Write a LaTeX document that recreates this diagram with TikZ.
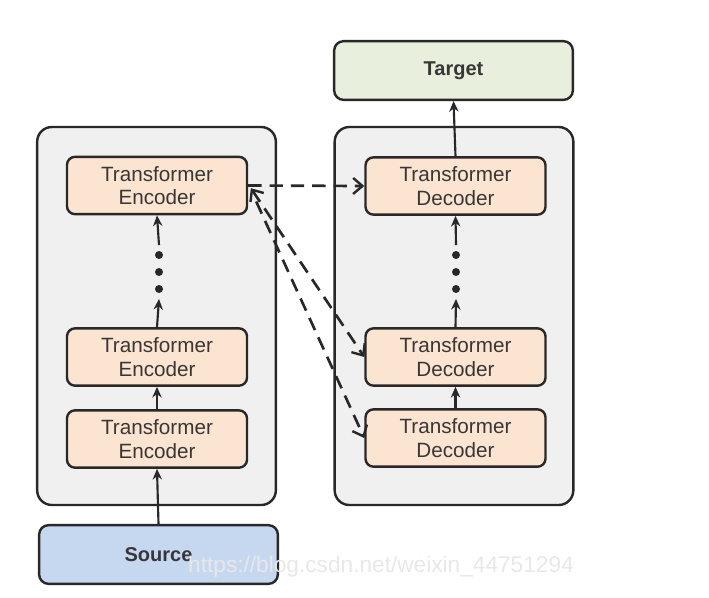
\documentclass[tikz,border=0pt]{standalone}
\usepackage{fontspec}
\setmainfont{Liberation Sans}
\usetikzlibrary{arrows.meta,shapes,positioning}
\definecolor{boxgray}{RGB}{240,240,240}
\definecolor{linegray}{RGB}{40,40,40}
\definecolor{peach}{RGB}{252,229,208}
\definecolor{paleblue}{RGB}{198,216,240}
\definecolor{palegreen}{RGB}{232,239,220}
\definecolor{textgray}{RGB}{55,55,55}

\begin{document}
\begin{tikzpicture}[x=0.75pt,y=-0.75pt,
  stack/.style={rectangle,rounded corners=11pt,draw=linegray,line width=1.8pt,
               fill=boxgray,minimum width=179pt,minimum height=283.5pt},
  tnode/.style={rectangle,rounded corners=6pt,draw=linegray,line width=1.8pt,
               fill=peach,minimum width=135pt,minimum height=43pt,align=center,
               text=textgray,font=\fontsize{15.5}{17.5}\selectfont,inner sep=2pt},
  io/.style={rectangle,rounded corners=7pt,draw=linegray,line width=1.8pt,
               minimum width=179pt,minimum height=44pt,
               text=textgray,font=\fontsize{15}{18}\selectfont\bfseries},
  dots/.style={minimum width=8pt,minimum height=40pt,inner sep=0pt},
  uparrow/.style={-{Stealth[length=8pt,width=7pt]},line width=1.6pt,linegray},
  attn/.style={dash pattern=on 10pt off 6pt,line width=2pt,linegray,
               -{Straight Barb[length=7pt,width=12pt,line width=1.8pt]}}]
\useasboundingbox (0,0) rectangle (709,597);
% two stacks
\node[stack] (lstack) at (156.5,316) {};
\node[stack] (rstack) at (454,316) {};
\node[io,fill=palegreen] (target) at (453.5,70.5) {Target};
\node[io,fill=paleblue]  (source) at (158.5,554.5) {Source};
% encoder side
\node[tnode] (enc1) at (157,185.5) {Transformer\\Encoder};
\node[dots]  (edots) at (159,272) {};
\node[tnode] (enc2) at (157,357) {Transformer\\Encoder};
\node[tnode] (enc3) at (157,439) {Transformer\\Encoder};
% decoder side
\node[tnode] (dec1) at (455.5,186) {Transformer\\Decoder};
\node[dots]  (ddots) at (456,272) {};
\node[tnode] (dec2) at (455.5,357) {Transformer\\Decoder};
\node[tnode] (dec3) at (455.5,438) {Transformer\\Decoder};
\foreach \n in {edots,ddots}
  \foreach \d in {-17,0,17}
    \fill[linegray] (\n.center) ++(0,\d) circle (3pt);
\draw[uparrow] (source.north) -- (enc3.south);
\draw[uparrow] (enc3.north) -- (enc2.south);
\draw[uparrow] (enc2.north) -- (edots.south);
\draw[uparrow] (edots.north) -- (enc1.south);
\draw[uparrow] (dec3.north) -- (dec2.south);
\draw[uparrow] (dec2.north) -- (ddots.south);
\draw[uparrow] (ddots.north) -- (dec1.south);
\draw[uparrow] (dec1.north) -- (target.south);
% encoder-decoder attention
\draw[attn] (enc1.east) -- (dec1.west);
\draw[attn,{Straight Barb[length=7pt,width=12pt,line width=1.8pt]}-{Straight Barb[length=7pt,width=12pt,line width=1.8pt]}]
  ([xshift=2pt,yshift=-2pt]enc1.east) -- (dec2.west);
\draw[attn] ([xshift=6pt,yshift=-12pt]enc1.east) -- (dec3.west);
% watermark
\node[text=gray!18,font=\fontsize{17}{20}\selectfont] (mark) at (381,567) {https://blog.csdn.net/weixin\_44751294};
\end{tikzpicture}
\end{document}
